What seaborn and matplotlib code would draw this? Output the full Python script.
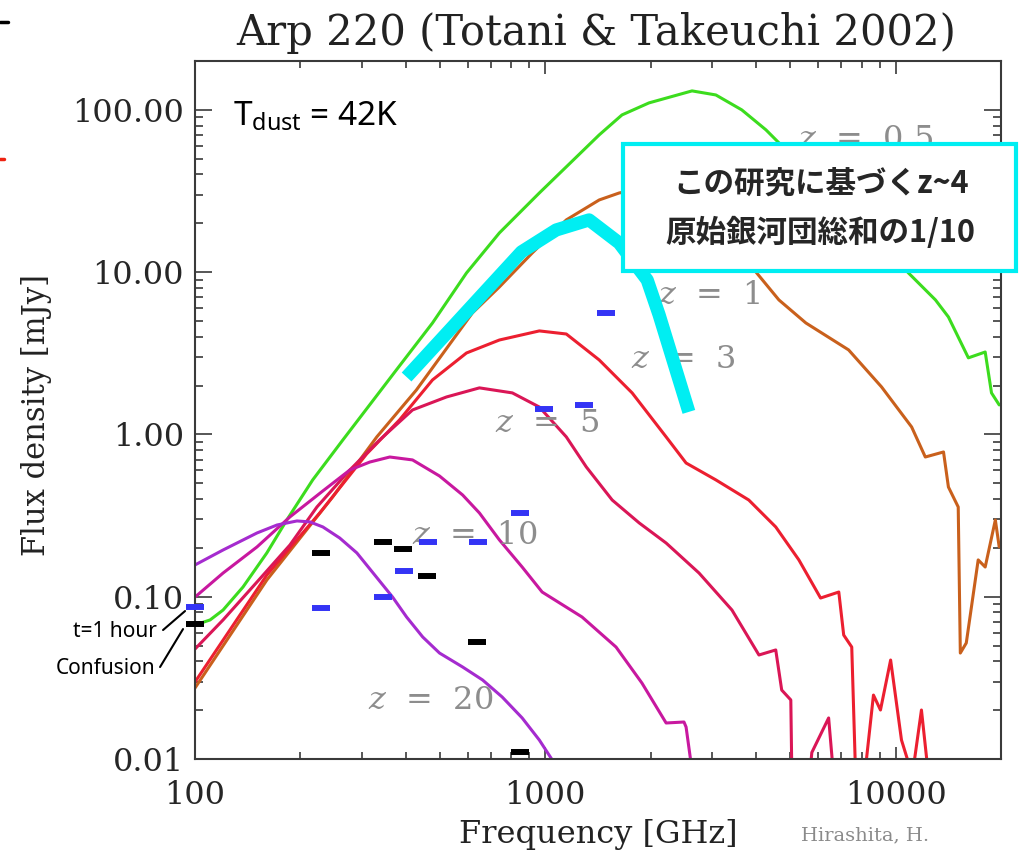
import numpy as np
import pandas as pd
import matplotlib
matplotlib.use("Agg")
import matplotlib.pyplot as plt
import seaborn as sns
from matplotlib.ticker import FixedLocator, FixedFormatter, LogLocator, NullFormatter
from matplotlib.patches import Rectangle

# Arp 220 template SED redshifted to several z
# (log10 observed frequency [GHz], log10 flux density [mJy])
z05_lognu = [2.000, 2.043, 2.080, 2.137, 2.205, 2.262, 2.336, 2.422, 2.575, 2.678, 2.775,
             2.869, 2.926, 2.983, 3.060, 3.154, 3.219, 3.296, 3.419, 3.487, 3.561, 3.630,
             3.667, 3.809, 3.923, 4.037, 4.114, 4.151, 4.208, 4.256, 4.274, 4.296]
z05_logs = [-1.174, -1.143, -1.082, -0.940, -0.730, -0.527, -0.280, -0.034, 0.398, 0.687, 0.995,
            1.242, 1.365, 1.488, 1.649, 1.846, 1.969, 2.043, 2.117, 2.092, 2.000, 1.877,
            1.797, 1.538, 1.273, 0.995, 0.829, 0.724, 0.472, 0.508, 0.256, 0.182]

z1_lognu = [2.000, 2.205, 2.393, 2.519, 2.632, 2.792, 2.869, 2.963, 3.060, 3.154, 3.211,
            3.296, 3.410, 3.510, 3.601, 3.667, 3.744, 3.866, 3.960, 4.046, 4.085, 4.137,
            4.151, 4.179, 4.185, 4.202, 4.236, 4.256, 4.285, 4.296]
z1_logs = [-1.562, -0.897, -0.385, -0.015, 0.274, 0.749, 0.909, 1.119, 1.322, 1.445, 1.488,
           1.525, 1.488, 1.353, 1.002, 0.829, 0.687, 0.521, 0.293, 0.046, -0.139, -0.108,
           -0.324, -0.447, -1.347, -1.285, -0.773, -0.817, -0.527, -0.693]

z3_lognu = [2.000, 2.205, 2.356, 2.490, 2.584, 2.678, 2.775, 2.869, 2.983, 3.060, 3.154,
            3.248, 3.345, 3.402, 3.487, 3.581, 3.658, 3.724, 3.786, 3.838, 3.852, 3.875,
            3.886, 3.912, 3.937, 3.957, 3.986, 4.017, 4.048, 4.074, 4.094]
z3_logs = [-1.525, -0.866, -0.484, -0.120, 0.090, 0.336, 0.502, 0.582, 0.638, 0.619, 0.459,
           0.256, -0.015, -0.176, -0.280, -0.404, -0.570, -0.773, -1.008, -0.971, -1.236, -1.310,
           -2.100, -2.100, -1.606, -1.698, -1.390, -1.883, -2.100, -1.698, -2.100]

z5_lognu = [2.000, 2.080, 2.177, 2.271, 2.348, 2.442, 2.527, 2.621, 2.718, 2.812, 2.906,
            2.983, 3.060, 3.117, 3.191, 3.268, 3.345, 3.439, 3.533, 3.610, 3.658, 3.675,
            3.701, 3.704, 3.755, 3.761, 3.809, 3.823]
z5_logs = [-1.322, -1.143, -0.909, -0.681, -0.447, -0.219, -0.034, 0.151, 0.231, 0.287, 0.256,
           0.169, -0.015, -0.200, -0.404, -0.545, -0.669, -0.854, -1.082, -1.359, -1.328, -1.575,
           -1.636, -2.100, -2.100, -1.960, -1.747, -2.100]

z10_lognu = [2.000, 2.080, 2.177, 2.271, 2.365, 2.442, 2.499, 2.556, 2.621, 2.698, 2.764,
             2.812, 2.869, 2.934, 2.991, 3.105, 3.202, 3.276, 3.345, 3.396, 3.402, 3.419]
z10_logs = [-1.002, -0.854, -0.693, -0.508, -0.348, -0.219, -0.170, -0.139, -0.157, -0.256, -0.373,
            -0.484, -0.650, -0.817, -0.971, -1.125, -1.310, -1.532, -1.778, -1.772, -1.803, -2.070]

z20_lognu = [2.000, 2.080, 2.177, 2.234, 2.291, 2.328, 2.365, 2.413, 2.462, 2.513, 2.564,
             2.604, 2.650, 2.698, 2.764, 2.821, 2.877, 2.934, 2.983, 3.020, 3.040]
z20_logs = [-0.804, -0.712, -0.607, -0.558, -0.533, -0.539, -0.570, -0.638, -0.730, -0.866, -1.002,
            -1.125, -1.248, -1.347, -1.433, -1.513, -1.618, -1.747, -1.883, -2.006, -2.100]

redshifts = ["0.5", "1", "3", "5", "10", "20"]
curve_colors = ["#3cdc1e", "#c9601c", "#ec1f30", "#da1656", "#c8189f", "#a52bcf"]

# z~4 protocluster estimate (1/10 of the summed flux)
pc_lognu = [2.604, 2.932, 3.031, 3.125, 3.211, 3.291, 3.325, 3.410]
pc_logs = [0.354, 1.125, 1.260, 1.322, 1.180, 0.952, 0.737, 0.139]

# Point-source sensitivity per band: t = 1 hour (blue) and confusion limit (black)
hour_freq = [100, 229, 345, 394, 464, 644, 849, 994, 1291, 1493]
hour_flux = [0.087, 0.085, 0.100, 0.144, 0.217, 0.217, 0.328, 1.44, 1.51, 5.61]
conf_freq = [100, 229, 343, 392, 461, 640, 849]
conf_flux = [0.068, 0.186, 0.217, 0.198, 0.134, 0.0526, 0.0110]

x_ticks = [100, 1000, 10000]
x_ticklabels = ["100", "1000", "10000"]
y_ticks = [0.01, 0.1, 1, 10, 100]
y_ticklabels = ["0.01", "0.10", "1.00", "10.00", "100.00"]

# where each redshift label sits (frequency, flux)
label_pos = [(8220, 65.3), (2930, 7.14), (2472, 2.88), (1013, 1.16), (628, 0.237), (470, 0.0231)]

sns.set_theme(style="ticks")
plt.rcParams["font.family"] = ["DejaVu Serif"]
plt.rcParams["mathtext.fontset"] = "custom"
plt.rcParams["mathtext.rm"] = "Noto Sans"
plt.rcParams["mathtext.it"] = "DejaVu Serif:italic"

fig = plt.figure(figsize=(10.19, 8.56), dpi=100)
ax = fig.add_axes([0.1914, 0.1133, 0.7909, 0.8154])
ax.set_xscale("log")
ax.set_yscale("log")
ax.set_xlim(100, 20000)
ax.set_ylim(0.01, 200)

series = [(z05_lognu, z05_logs), (z1_lognu, z1_logs), (z3_lognu, z3_logs),
          (z5_lognu, z5_logs), (z10_lognu, z10_logs), (z20_lognu, z20_logs)]
frames = []
for z, (ln, ls) in zip(redshifts, series):
    frames.append(pd.DataFrame({"freq": 10 ** np.array(ln), "flux": 10 ** np.array(ls), "z": z}))
sed = pd.concat(frames, ignore_index=True)

sns.lineplot(data=sed, x="freq", y="flux", hue="z", hue_order=redshifts,
             palette=dict(zip(redshifts, curve_colors)), sort=False, estimator=None,
             linewidth=2.2, legend=False, ax=ax, zorder=2)

for z, (fx, fy) in zip(redshifts, label_pos):
    ax.text(fx, fy, r"$z$  =  " + z, fontsize=23, color="#8d8d8d", ha="center", va="center",
            family="DejaVu Serif", zorder=2.5)

sns.lineplot(x=10 ** np.array(pc_lognu), y=10 ** np.array(pc_logs), sort=False, estimator=None,
             color="#00eef2", linewidth=9.5, solid_capstyle="butt", ax=ax, zorder=3)

sns.lineplot(x=hour_freq, y=hour_flux, sort=False, estimator=None, linestyle="", marker="_",
             markersize=13, markeredgewidth=4.3, color="#3434f5", markeredgecolor="#3434f5",
             clip_on=False, ax=ax, zorder=5)
sns.lineplot(x=conf_freq, y=conf_flux, sort=False, estimator=None, linestyle="", marker="_",
             markersize=13, markeredgewidth=4.3, color="black", markeredgecolor="black",
             clip_on=False, ax=ax, zorder=5)

# axes cosmetics
for s in ax.spines.values():
    s.set_linewidth(1.5)
    s.set_color("#3a3a3a")
ax.xaxis.set_major_locator(FixedLocator(x_ticks))
ax.xaxis.set_major_formatter(FixedFormatter(x_ticklabels))
ax.yaxis.set_major_locator(FixedLocator(y_ticks))
ax.yaxis.set_major_formatter(FixedFormatter(y_ticklabels))
ax.xaxis.set_minor_locator(LogLocator(base=10, subs=np.arange(2, 10)))
ax.yaxis.set_minor_locator(LogLocator(base=10, subs=np.arange(2, 10)))
ax.xaxis.set_minor_formatter(NullFormatter())
ax.yaxis.set_minor_formatter(NullFormatter())
ax.tick_params(which="both", direction="in", top=True, right=True, color="#3a3a3a", width=1.2)
ax.tick_params(axis="x", which="major", length=9, pad=15, labelsize=23)
ax.tick_params(axis="x", which="minor", length=5)
ax.tick_params(axis="y", which="major", length=12, pad=8, labelsize=23)
ax.tick_params(axis="y", which="minor", length=6)

ax.set_xlabel("Frequency [GHz]", fontsize=23, color="#222222")
ax.set_ylabel("Flux density [mJy]", fontsize=22, color="#222222")
ax.xaxis.set_label_coords(0.5, -0.086)
ax.yaxis.set_label_coords(-0.1774, 0.493)

ax.text(0.047, 0.920, r"T$_{\mathrm{dust}}$ = 42K", transform=ax.transAxes, fontsize=24,
        family="Noto Sans", va="center", ha="left", color="black")

# sensitivity legend at the left of the axis
ax.text(-0.0471, 0.182, "t=1 hour", transform=ax.transAxes, fontsize=15, family="Noto Sans",
        ha="right", va="center", color="black")
ax.text(-0.0496, 0.130, "Confusion", transform=ax.transAxes, fontsize=15, family="Noto Sans",
        ha="right", va="center", color="black")
ax.plot([-0.0397, -0.0124], [0.1848, 0.2120], transform=ax.transAxes, color="black", lw=1.5,
        clip_on=False)
ax.plot([-0.0434, -0.0149], [0.1318, 0.1862], transform=ax.transAxes, color="black", lw=1.5,
        clip_on=False)

fig.text(0.585, 0.947, "Arp 220 (Totani & Takeuchi 2002)", fontsize=30, ha="center",
         va="baseline", color="#222222", family="DejaVu Serif")
fig.text(0.849, 0.0245, "Hirashita, H.", fontsize=14, ha="center", va="center",
         color="#8a8a8a", family="DejaVu Serif")

# callout box
box = Rectangle((0.6114, 0.6834), 0.3856, 0.1484, transform=fig.transFigure,
                facecolor="white", edgecolor="#00eef2", linewidth=3, zorder=10)
fig.add_artist(box)
fig.text(0.8057, 0.786, "この研究に基づくz~4", fontsize=22, fontweight="bold",
         family=["Noto Sans CJK JP"], ha="center", va="center", zorder=11)
fig.text(0.8047, 0.728, "原始銀河団総和の1/10", fontsize=22, fontweight="bold",
         family=["Noto Sans CJK JP"], ha="center", va="center", zorder=11)

# slide edge marks
fig.add_artist(plt.Line2D([0, 0.008], [0.974, 0.974], color="black", lw=2.5))
fig.add_artist(plt.Line2D([0, 0.004], [0.814, 0.814], color="#ee2211", lw=2.5))

fig.savefig("out.png", dpi=100)
